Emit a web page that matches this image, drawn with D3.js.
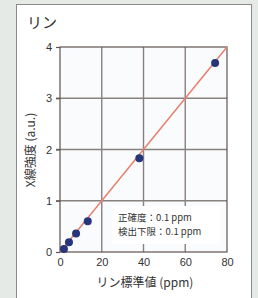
<!DOCTYPE html>
<html>
<head>
<meta charset="utf-8">
<script src="https://cdn.jsdelivr.net/npm/d3@7"></script>
<style>
  body { margin: 0; background: #e6eae6; }
  svg { display: block; font-family: "Noto Sans CJK JP", "Noto Sans", sans-serif; }
</style>
</head>
<body>
<svg></svg>
<script>
const width = 258;
const height = 298;

// standard values (ppm) and measured X-ray intensity
const stdPpm = [1.9, 4.3, 7.7, 13.3, 38, 74.3];
const intensity = [0.06, 0.19, 0.36, 0.6, 1.83, 3.69];
const fitLine = [[0, 0], [80, 4]];
const xTicks = [0, 20, 40, 60, 80];
const yTicks = [0, 1, 2, 3, 4];
const notes = ["正確度：0.1 ppm", "検出下限：0.1 ppm"];

const x = d3.scaleLinear().domain([0, 80]).range([60, 227]);
const y = d3.scaleLinear().domain([0, 4]).range([252, 47]);

const svg = d3.select("svg")
  .attr("width", width)
  .attr("height", height);

// white panel
svg.append("rect")
  .attr("x", 16.5).attr("y", 4.5)
  .attr("width", 235).attr("height", 300)
  .attr("fill", "#fff")
  .attr("stroke", "#8a8a8a");

svg.append("text")
  .attr("x", 27).attr("y", 28)
  .attr("font-size", 15)
  .attr("fill", "#333")
  .text("リン");

// plot area
svg.append("rect")
  .attr("x", x(0)).attr("y", y(4))
  .attr("width", x(80) - x(0)).attr("height", y(0) - y(4))
  .attr("fill", "#f9fbfd");

// grid
const grid = svg.append("g")
  .attr("stroke", "#6e6360")
  .attr("stroke-width", 1.4)
  .attr("opacity", 0.8);

grid.selectAll(".gx")
  .data(xTicks.slice(1, -1))
  .join("line")
  .attr("x1", d => x(d)).attr("x2", d => x(d))
  .attr("y1", y(4)).attr("y2", y(0));

grid.selectAll(".gy")
  .data(yTicks.slice(1, -1))
  .join("line")
  .attr("x1", x(0) - 4).attr("x2", x(80))
  .attr("y1", d => y(d)).attr("y2", d => y(d));

// frame
svg.append("rect")
  .attr("x", x(0)).attr("y", y(4))
  .attr("width", x(80) - x(0)).attr("height", y(0) - y(4))
  .attr("fill", "none")
  .attr("stroke", "#5e5452")
  .attr("stroke-width", 1.2);

// axes
const xAxis = svg.append("g")
  .attr("transform", `translate(0,${y(0)})`)
  .call(d3.axisBottom(x).tickValues(xTicks).tickSize(0).tickPadding(6));

const yAxis = svg.append("g")
  .attr("transform", `translate(${x(0)},0)`)
  .call(d3.axisLeft(y).tickValues(yTicks).tickFormat(d3.format("d")).tickSize(4).tickPadding(4));

[xAxis, yAxis].forEach(a => {
  a.select(".domain").remove();
  a.selectAll("text")
    .attr("font-size", 11)
    .attr("fill", "#333")
    .attr("font-family", "Liberation Sans, Arial, sans-serif");
  a.selectAll("line").attr("stroke", "#5e5452").attr("stroke-width", 1.2);
});

// note box
const note = svg.append("g");
note.append("rect")
  .attr("x", 112).attr("y", 206)
  .attr("width", 108).attr("height", 38)
  .attr("fill", "#fff");

note.selectAll("text")
  .data(notes)
  .join("text")
  .attr("x", 118)
  .attr("y", (d, i) => 221 + i * 14)
  .attr("font-size", 9.5)
  .attr("fill", "#333")
  .text(d => d);

// fitted line
svg.append("line")
  .attr("x1", x(fitLine[0][0])).attr("y1", y(fitLine[0][1]))
  .attr("x2", x(fitLine[1][0])).attr("y2", y(fitLine[1][1]))
  .attr("stroke", "#e8806c")
  .attr("stroke-width", 1.5);

// points
svg.selectAll(".pt")
  .data(stdPpm)
  .join("circle")
  .attr("cx", d => x(d))
  .attr("cy", (d, i) => y(intensity[i]))
  .attr("r", 4)
  .attr("fill", "#27357a");

// axis titles
svg.append("text")
  .attr("x", 145).attr("y", 287)
  .attr("text-anchor", "middle")
  .attr("font-size", 12)
  .attr("fill", "#333")
  .text("リン標準値 (ppm)");

svg.append("text")
  .attr("transform", "translate(35,150) rotate(-90)")
  .attr("text-anchor", "middle")
  .attr("font-size", 12)
  .attr("fill", "#333")
  .text("X線強度 (a.u.)");
</script>
</body>
</html>
